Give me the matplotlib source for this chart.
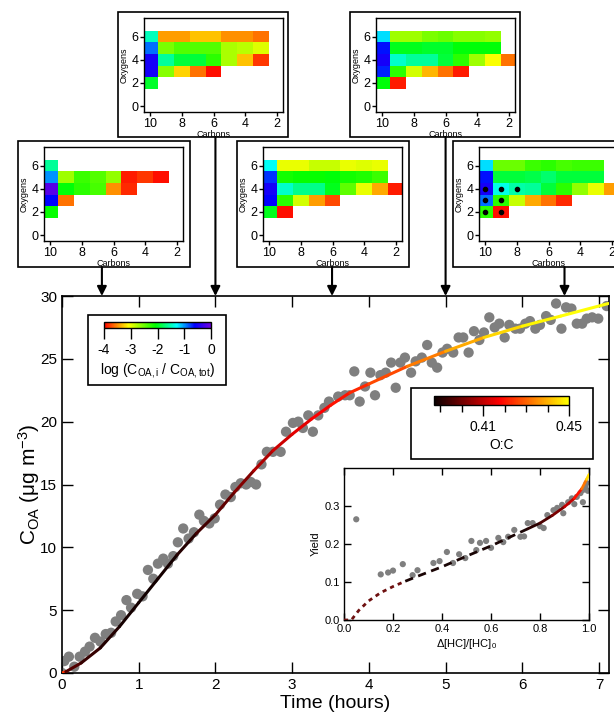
import numpy as np
import matplotlib.pyplot as plt
from matplotlib.colors import LinearSegmentedColormap, Normalize
from matplotlib.collections import LineCollection
from matplotlib.patches import Rectangle, FancyArrowPatch
from matplotlib.cm import ScalarMappable

plt.rcParams['font.family'] = ['Liberation Sans', 'DejaVu Sans']
plt.rcParams['mathtext.fontset'] = 'custom'
plt.rcParams['mathtext.rm'] = 'Liberation Sans'
plt.rcParams['mathtext.it'] = 'Liberation Sans:italic'
plt.rcParams['axes.unicode_minus'] = False

# ---- main panel: measured C_OA vs time ----
time_h = [0.0, 0.03, 0.09, 0.16, 0.23, 0.3, 0.36, 0.43, 0.5, 0.57, 0.64, 0.7, 0.77, 0.84, 0.9,
          0.98, 1.05, 1.12, 1.19, 1.25, 1.32, 1.38, 1.45, 1.51, 1.58, 1.65, 1.72, 1.79, 1.85,
          1.92, 1.99, 2.06, 2.13, 2.2, 2.26, 2.33, 2.4, 2.46, 2.53, 2.6, 2.67, 2.75, 2.85,
          2.92, 3.01, 3.08, 3.14, 3.21, 3.27, 3.34, 3.42, 3.48, 3.6, 3.69, 3.75, 3.81, 3.88,
          3.95, 4.02, 4.08, 4.15, 4.22, 4.29, 4.35, 4.41, 4.47, 4.55, 4.61, 4.69, 4.76, 4.82,
          4.89, 4.96, 5.02, 5.1, 5.17, 5.23, 5.3, 5.37, 5.44, 5.5, 5.57, 5.64, 5.7, 5.77,
          5.83, 5.91, 5.97, 6.04, 6.1, 6.17, 6.23, 6.31, 6.37, 6.44, 6.51, 6.57, 6.64, 6.71,
          6.78, 6.84, 6.91, 6.99, 7.1]
coa = [0.0, 0.95, 1.3, 0.5, 1.3, 1.7, 2.1, 2.8, 2.5, 3.1, 3.2, 4.1, 4.6, 5.8, 5.2,
       6.3, 6.1, 8.2, 7.5, 8.7, 9.1, 8.7, 9.3, 10.4, 11.5, 10.7, 11.2, 12.6, 12.1,
       11.9, 12.3, 13.4, 14.2, 14.0, 14.8, 15.1, 15.0, 15.2, 15.0, 16.6, 17.6, 17.6, 17.6,
       19.2, 19.9, 20.0, 19.5, 20.5, 19.2, 20.5, 21.1, 21.6, 22.0, 22.1, 22.1, 24.0, 21.6,
       22.8, 23.9, 22.1, 23.7, 23.9, 24.7, 22.7, 24.7, 25.1, 23.9, 24.8, 25.1, 26.1, 24.7,
       24.3, 25.5, 25.8, 25.5, 26.7, 26.7, 25.5, 27.2, 26.5, 27.1, 28.3, 27.5, 27.8, 26.7,
       27.7, 27.4, 27.4, 27.8, 28.0, 27.4, 27.7, 28.4, 28.1, 29.4, 27.4, 29.1, 29.0, 27.8,
       27.8, 28.2, 28.3, 28.2, 29.2]

# model fit, coloured by O:C
fit_t = [0.0, 0.05, 0.25, 0.5, 0.75, 1.0, 1.25, 1.5, 1.75, 2.0, 2.25, 2.5, 2.75, 3.0,
         3.25, 3.5, 3.75, 4.0, 4.5, 5.0, 5.5, 6.0, 6.5, 7.12]
fit_coa = [0.0, 0.1, 0.8, 2.0, 3.7, 5.6, 7.5, 9.4, 11.1, 12.6, 14.4, 16.1, 17.7, 19.0,
           20.2, 21.3, 22.3, 23.0, 24.4, 25.6, 26.7, 27.6, 28.4, 29.4]
fit_oc = [0.45, 0.398, 0.394, 0.391, 0.389, 0.388, 0.388, 0.389, 0.392, 0.396, 0.400,
          0.405, 0.410, 0.413, 0.416, 0.419, 0.421, 0.424, 0.430, 0.436, 0.442, 0.447,
          0.450, 0.451]

# ---- inset: yield vs fraction of HC reacted ----
dhc = [0.05, 0.15, 0.18, 0.2, 0.24, 0.28, 0.3, 0.365, 0.39, 0.42, 0.445, 0.47, 0.495,
       0.52, 0.54, 0.555, 0.58, 0.6, 0.63, 0.65, 0.67, 0.695, 0.72, 0.735, 0.75, 0.77,
       0.8, 0.815, 0.83, 0.855, 0.87, 0.89, 0.895, 0.915, 0.93, 0.94, 0.95, 0.965, 0.975,
       0.975, 0.985, 0.99, 0.995]
yld = [0.265, 0.12, 0.125, 0.13, 0.147, 0.118, 0.131, 0.15, 0.155, 0.179, 0.15, 0.173,
       0.163, 0.208, 0.184, 0.203, 0.208, 0.19, 0.216, 0.205, 0.219, 0.237, 0.219, 0.22,
       0.255, 0.255, 0.247, 0.242, 0.276, 0.289, 0.295, 0.303, 0.281, 0.31, 0.32, 0.305,
       0.324, 0.334, 0.342, 0.31, 0.35, 0.36, 0.34]
yfit_early_x = [0.0, 0.03, 0.06, 0.1, 0.15, 0.2, 0.25]
yfit_early_y = [0.0, 0.0, 0.025, 0.05, 0.072, 0.088, 0.102]
yfit_mid_x = [0.25, 0.3, 0.4, 0.5, 0.6, 0.7, 0.75]
yfit_mid_y = [0.102, 0.115, 0.14, 0.168, 0.195, 0.225, 0.24]
yfit_late_x = [0.75, 0.8, 0.85, 0.9, 0.94, 0.97, 0.99, 1.0]
yfit_late_y = [0.24, 0.255, 0.275, 0.298, 0.32, 0.345, 0.37, 0.383]
yfit_late_oc = [0.389, 0.393, 0.398, 0.405, 0.415, 0.425, 0.44, 0.45]

# ---- composition panels: log(C_OA,i / C_OA,tot), rows O=6..2, cols C=10..2 ----
carbons = [10, 9, 8, 7, 6, 5, 4, 3, 2]
oxygens = [6, 5, 4, 3, 2]
n = np.nan
comp_t05 = [[-1.6, n, n, n, n, n, n, n, n],
            [-1.0, -2.7, -2.3, -2.4, -2.65, -3.9, -3.8, -3.95, n],
            [-0.15, -2.05, -2.25, -2.35, -3.5, -3.85, n, n, n],
            [-0.6, -3.6, n, n, n, n, n, n, n],
            [-2.1, n, n, n, n, n, n, n, n]]
comp_t2 = [[-1.5, -3.45, -3.45, -3.3, -3.3, -3.5, -3.5, -3.6, n],
           [-0.9, -2.55, -2.4, -2.4, -2.4, -2.75, -2.8, -2.95, n],
           [-0.5, -1.6, -1.9, -1.9, -2.25, -2.75, -3.3, -3.8, n],
           [-0.5, -2.6, -3.25, -3.6, -3.95, n, n, n, n],
           [-1.95, n, n, n, n, n, n, n, n]]
comp_t35 = [[-1.3, -3.0, -3.0, -2.85, -2.85, -3.0, -2.95, -3.0, n],
            [-0.75, -2.15, -2.1, -2.1, -2.05, -2.15, -2.2, -2.3, n],
            [-0.5, -1.45, -1.65, -1.65, -2.0, -2.45, -3.0, -3.4, -3.9],
            [-0.6, -2.25, -2.9, -3.45, -3.75, n, n, n, n],
            [-2.0, -3.95, n, n, n, n, n, n, n]]
comp_t5 = [[-1.2, -2.7, -2.7, -2.55, -2.5, -2.6, -2.6, -2.65, n],
           [-0.65, -2.0, -2.0, -1.95, -1.95, -2.05, -2.05, -2.05, n],
           [-0.5, -1.45, -1.6, -1.6, -1.9, -2.25, -2.7, -3.05, -3.6],
           [-0.7, -2.25, -2.9, -3.35, -3.6, -3.9, n, n, n],
           [-2.05, -3.9, n, n, n, n, n, n, n]]
comp_t66 = [[-1.2, -2.5, -2.5, -2.3, -2.25, -2.35, -2.3, -2.3, n],
            [-0.65, -1.9, -1.9, -1.85, -1.75, -1.9, -1.9, -1.9, n],
            [-0.5, -1.35, -1.55, -1.6, -1.9, -2.25, -2.65, -3.0, -3.45],
            [-0.9, -2.25, -2.85, -3.4, -3.6, -3.85, n, n, n],
            [-2.25, -3.95, n, n, n, n, n, n, n]]
dots_c = [10, 9, 8, 10, 9, 10, 9]
dots_o = [4, 4, 4, 3, 3, 2, 2]
panel_times = [0.52, 2.0, 3.52, 5.0, 6.55]

W, H = 614, 713
fig = plt.figure(figsize=(W / 100, H / 100), dpi=100)


def frac(x, y, w, h):
    # pixel box measured from top-left -> figure fraction
    return [x / W, 1 - (y + h) / H, w / W, h / H]


rainbow = LinearSegmentedColormap.from_list(
    'rb', [(0, '#ff0000'), (0.11, '#ff8000'), (0.23, '#ffff00'), (0.48, '#00ff00'),
           (0.68, '#00ffff'), (0.85, '#0000ff'), (1.0, '#7000e0')])
lognorm = Normalize(-4, 0)
hot = LinearSegmentedColormap.from_list('hot75', plt.get_cmap('hot')(np.linspace(0, 0.75, 256)))
ocnorm = Normalize(0.387, 0.45)


def colored_line(ax, x, y, c, **kw):
    pts = np.column_stack([x, y]).reshape(-1, 1, 2)
    segs = np.concatenate([pts[:-1], pts[1:]], axis=1)
    c = np.asarray(c)
    lc = LineCollection(segs, cmap=hot, norm=ocnorm, capstyle='round', **kw)
    lc.set_array((c[:-1] + c[1:]) / 2)
    ax.add_collection(lc)


# ---- main axes ----
ax = fig.add_axes(frac(62, 296, 547, 377))
ax.scatter(time_h, coa, s=55, color='#7f7f7f', edgecolors='none', zorder=2)
colored_line(ax, fit_t, fit_coa, fit_oc, linewidth=2.2, zorder=3)
ax.set_xlim(0, 7.13)
ax.set_ylim(0, 30)
ax.set_xticks(range(8))
ax.set_yticks(range(0, 31, 5))
ax.tick_params(direction='in', top=True, right=True, length=8, width=1, labelsize=11)
for sp in ax.spines.values():
    sp.set_linewidth(1.2)
ax.set_xlabel('Time (hours)', fontsize=14, labelpad=2)
ax.set_ylabel(r'C$_{\mathregular{OA}}$ (μg m$^{\mathregular{-3}}$)', fontsize=15, labelpad=-1)

# log colour-scale legend
fig.add_artist(Rectangle((88 / W, 1 - 385 / H), 138 / W, 70 / H, transform=fig.transFigure,
                         facecolor='white', edgecolor='black', lw=1.2, zorder=2))
cax1 = fig.add_axes(frac(104, 322, 107, 6), zorder=3)
cb1 = fig.colorbar(ScalarMappable(norm=lognorm, cmap=rainbow), cax=cax1, orientation='horizontal')
cb1.set_ticks([-4, -3, -2, -1, 0])
cb1.ax.tick_params(direction='out', length=8, width=1, labelsize=10, pad=3)
cb1.outline.set_linewidth(1)
cb1.set_label(r'log (C$_{\mathregular{OA,i}}$ / C$_{\mathregular{OA,tot}}$)', fontsize=10, labelpad=3)

# O:C legend
fig.add_artist(Rectangle((411 / W, 1 - 459 / H), 182 / W, 71 / H, transform=fig.transFigure,
                         facecolor='white', edgecolor='black', lw=1.2, zorder=2))
cax2 = fig.add_axes(frac(434, 396, 135, 9), zorder=3)
cb2 = fig.colorbar(ScalarMappable(norm=ocnorm, cmap=hot), cax=cax2, orientation='horizontal')
cb2.set_ticks([0.41, 0.45])
cb2.ax.set_xticks(np.arange(0.39, 0.445, 0.01), minor=True)
cb2.ax.tick_params(which='major', direction='out', length=8, width=1, labelsize=10, pad=3)
cb2.ax.tick_params(which='minor', direction='out', length=5, width=1)
cb2.outline.set_linewidth(1)
cb2.set_label('O:C', fontsize=10, labelpad=3)

# ---- inset ----
axi = fig.add_axes(frac(344, 468, 245, 152), zorder=3)
axi.scatter(dhc, yld, s=20, color='#7f7f7f', edgecolors='none', zorder=2)
axi.plot(yfit_early_x, yfit_early_y, ls=(0, (1.5, 1.5)), color='#6e1010', lw=2, zorder=3)
axi.plot(yfit_mid_x, yfit_mid_y, ls=(0, (3, 2)), color='#1a0505', lw=2, zorder=3)
colored_line(axi, yfit_late_x, yfit_late_y, yfit_late_oc, linewidth=2, zorder=3)
axi.set_xlim(0, 1.0)
axi.set_ylim(0, 0.4)
axi.set_xticks(np.arange(0, 1.01, 0.2))
axi.set_xticklabels(['0.0', '0.2', '0.4', '0.6', '0.8', '1.0'])
axi.set_yticks([0, 0.1, 0.2, 0.3])
axi.set_yticklabels(['0.0', '0.1', '0.2', '0.3'])
axi.tick_params(direction='in', top=True, right=True, length=5, width=1, labelsize=8, pad=3)
for sp in axi.spines.values():
    sp.set_linewidth(1)
axi.set_xlabel(r'Δ[HC]/[HC]$_{\mathregular{0}}$', fontsize=8, labelpad=2)
axi.set_ylabel('Yield', fontsize=8, labelpad=3)

# ---- composition panels ----
boxes = [(18, 141, 172, 126), (118, 12, 170, 125), (237, 141, 172, 126),
         (350, 12, 170, 125), (453, 141, 172, 126)]
grids = [comp_t05, comp_t2, comp_t35, comp_t5, comp_t66]
main_top = 296
xedges = np.arange(10.5, 1.4, -1)
yedges = np.arange(6.5, 1.4, -1)
for k, (bx, by, bw, bh) in enumerate(boxes):
    fig.add_artist(Rectangle((bx / W, 1 - (by + bh) / H), bw / W, bh / H,
                             transform=fig.transFigure, facecolor='white',
                             edgecolor='black', lw=1.2, zorder=1))
    pa = fig.add_axes(frac(bx + 26, by + 6, 139, 94), zorder=2)
    z = np.ma.masked_invalid(np.array(grids[k]))
    pa.pcolormesh(xedges, yedges, z, cmap=rainbow, norm=lognorm)
    if k == 4:
        pa.scatter(dots_c, dots_o, s=9, color='black', zorder=3)
    pa.set_xlim(10.4, 1.6)
    pa.set_ylim(-0.5, 7.6)
    pa.set_xticks([10, 8, 6, 4, 2])
    pa.set_yticks([0, 2, 4, 6])
    pa.tick_params(direction='out', length=3, width=1, labelsize=9, pad=1)
    for sp in pa.spines.values():
        sp.set_linewidth(1)
    pa.set_xlabel('Carbons', fontsize=6.5, labelpad=0)
    pa.set_ylabel('Oxygens', fontsize=6.5, labelpad=2)
    # arrow from panel down to its time on the main axis
    xf = fig.transFigure.inverted().transform(ax.transData.transform((panel_times[k], 0)))[0]
    fig.add_artist(FancyArrowPatch(
        (xf, 1 - (by + bh) / H), (xf, 1 - main_top / H), transform=fig.transFigure,
        arrowstyle='-|>', mutation_scale=14, lw=1.5, color='black', zorder=4,
        shrinkA=0, shrinkB=0))

fig.savefig('out.png', dpi=100)
